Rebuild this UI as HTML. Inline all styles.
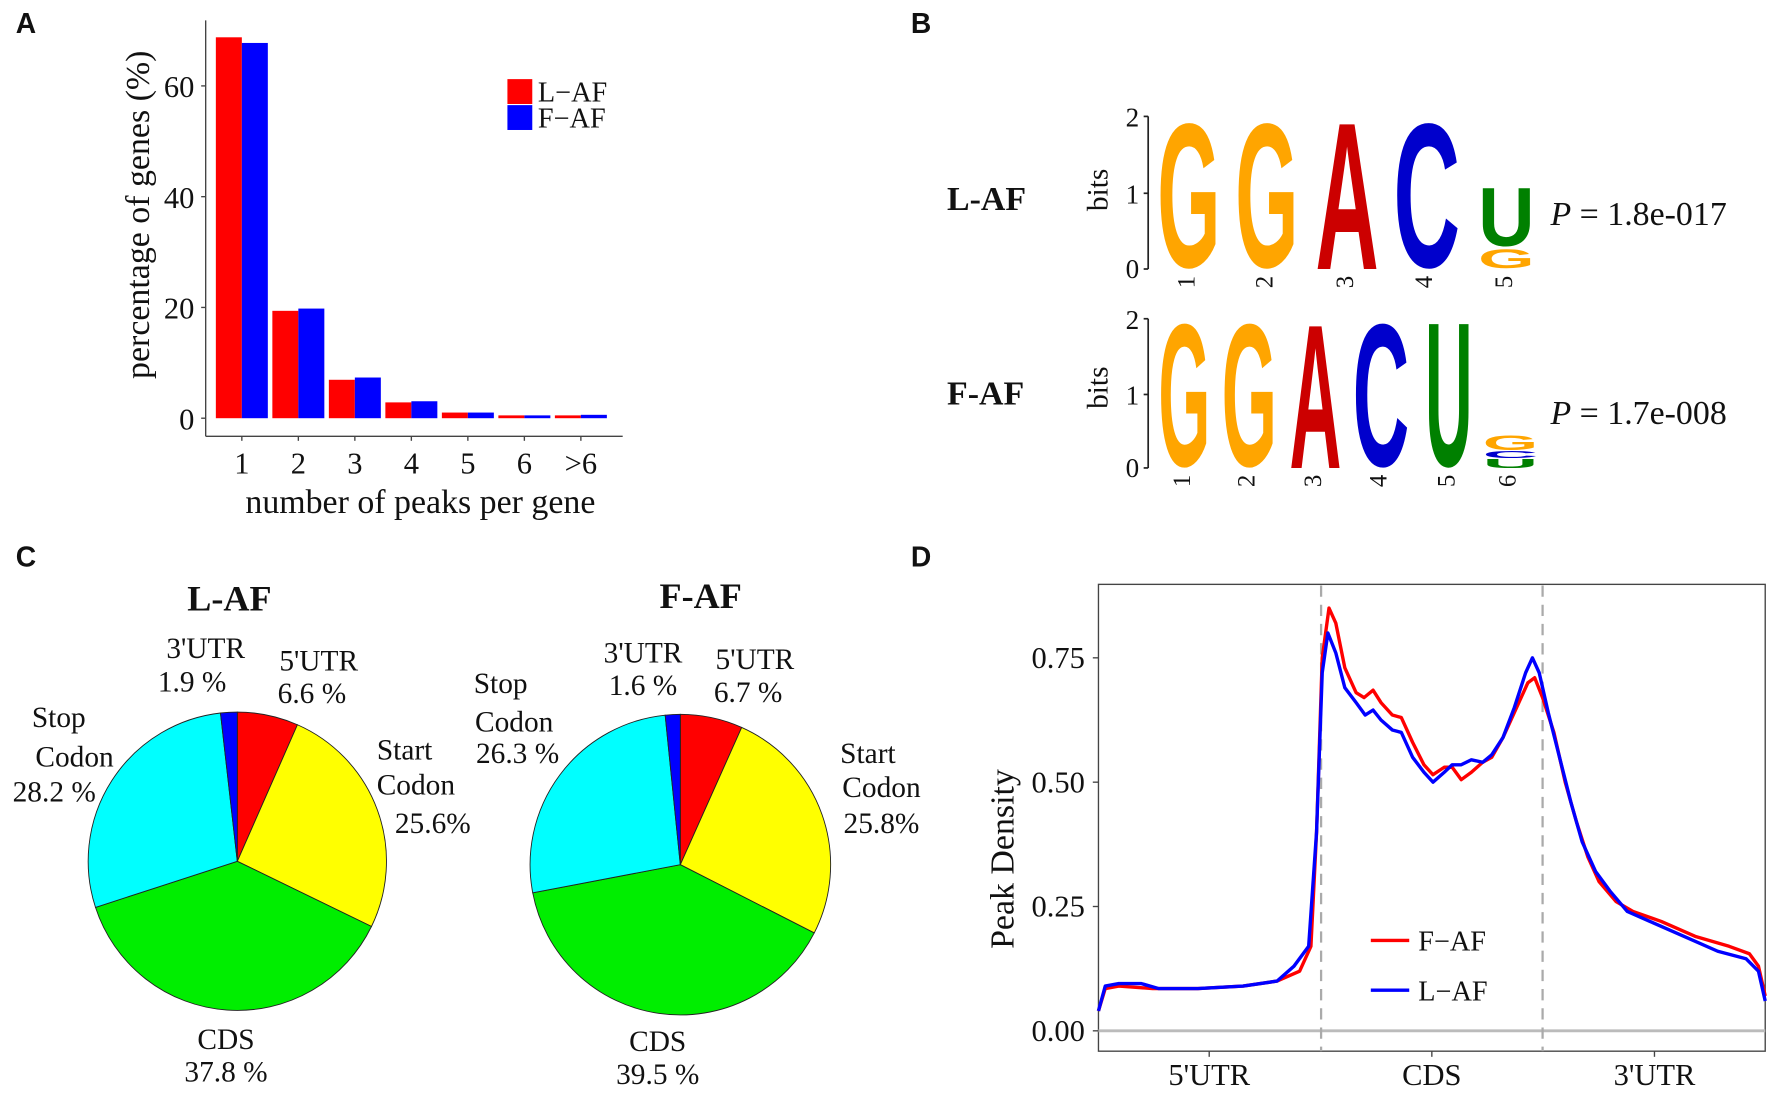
<!DOCTYPE html>
<html><head><meta charset="utf-8"><style>
html,body{margin:0;padding:0;background:#fff;}
svg{display:block;}
.s{font-family:"Liberation Serif",serif;fill:#111;}
.b{font-family:"Liberation Sans",sans-serif;font-weight:bold;fill:#111;}
</style></head><body>
<svg width="1772" height="1093" viewBox="0 0 1568 967" preserveAspectRatio="none" xmlns="http://www.w3.org/2000/svg">
<rect width="1568" height="967" fill="#fff"/>
<!-- Panel A -->
<text class="b" x="14" y="29" font-size="25">A</text>
<g fill="#ff0000">
<rect x="191" y="33" width="23" height="337"/><rect x="241" y="275" width="23" height="95"/>
<rect x="291" y="336" width="23" height="34"/><rect x="341" y="356" width="23" height="14"/>
<rect x="391" y="365" width="23" height="5"/><rect x="441" y="367.5" width="23" height="2.5"/>
<rect x="491" y="367.5" width="23" height="2.5"/></g>
<g fill="#0000ff">
<rect x="214" y="38" width="23" height="332"/><rect x="264" y="273" width="23" height="97"/>
<rect x="314" y="334" width="23" height="36"/><rect x="364" y="355" width="23" height="15"/>
<rect x="414" y="365" width="23" height="5"/><rect x="464" y="367.5" width="23" height="2.5"/>
<rect x="514" y="367" width="23" height="3"/></g>
<g stroke="#444" stroke-width="1.2">
<line x1="182" y1="18" x2="182" y2="386"/><line x1="182" y1="386" x2="551" y2="386"/>
<line x1="178" y1="370" x2="182" y2="370"/><line x1="178" y1="272" x2="182" y2="272"/>
<line x1="178" y1="174" x2="182" y2="174"/><line x1="178" y1="76" x2="182" y2="76"/>
<line x1="214" y1="386" x2="214" y2="390"/><line x1="264" y1="386" x2="264" y2="390"/>
<line x1="314" y1="386" x2="314" y2="390"/><line x1="364" y1="386" x2="364" y2="390"/>
<line x1="414" y1="386" x2="414" y2="390"/><line x1="464" y1="386" x2="464" y2="390"/>
<line x1="514" y1="386" x2="514" y2="390"/></g>
<g class="s" font-size="27" text-anchor="end">
<text x="172" y="380">0</text><text x="172" y="282">20</text><text x="172" y="184">40</text><text x="172" y="86">60</text></g>
<g class="s" font-size="27" text-anchor="middle">
<text x="214" y="419">1</text><text x="264" y="419">2</text><text x="314" y="419">3</text><text x="364" y="419">4</text>
<text x="414" y="419">5</text><text x="464" y="419">6</text><text x="514" y="419">&gt;6</text></g>
<text class="s" font-size="30" text-anchor="middle" x="372" y="454">number of peaks per gene</text>
<text class="s" font-size="30" text-anchor="middle" transform="translate(132,190) rotate(-90)">percentage of genes (%)</text>
<rect x="449" y="70" width="22" height="22" fill="#ff0000"/><rect x="449" y="93" width="22" height="22" fill="#0000ff"/>
<text class="s" font-size="25" x="476" y="90">L−AF</text><text class="s" font-size="25" x="476" y="113">F−AF</text>

<!-- Panel B -->
<text class="b" x="806" y="29" font-size="25">B</text>
<g class="s" font-weight="bold" font-size="30"><text x="838" y="186">L-AF</text><text x="838" y="358">F-AF</text></g>
<g class="s" font-size="26" text-anchor="middle">
<text transform="translate(980,168) rotate(-90)">bits</text><text transform="translate(980,343) rotate(-90)">bits</text></g>
<g stroke="#222" stroke-width="1.5">
<line x1="1016" y1="103" x2="1016" y2="238"/><line x1="1012" y1="103" x2="1016" y2="103"/><line x1="1012" y1="171" x2="1016" y2="171"/><line x1="1012" y1="238" x2="1016" y2="238"/>
<line x1="1016" y1="282" x2="1016" y2="414"/><line x1="1012" y1="282" x2="1016" y2="282"/><line x1="1012" y1="349" x2="1016" y2="349"/><line x1="1012" y1="414" x2="1016" y2="414"/></g>
<g class="s" font-size="24" text-anchor="end">
<text x="1008" y="112">2</text><text x="1008" y="180">1</text><text x="1008" y="246">0</text>
<text x="1008" y="291">2</text><text x="1008" y="358">1</text><text x="1008" y="422">0</text></g>
<g font-family="Liberation Sans,sans-serif" font-weight="bold" font-size="100">
<!-- row 1 -->
<text x="0" y="0" textLength="56" lengthAdjust="spacingAndGlyphs" fill="#ffa500" transform="translate(1024,236) scale(1,1.82)">G</text>
<text x="0" y="0" textLength="56" lengthAdjust="spacingAndGlyphs" fill="#ffa500" transform="translate(1093,236) scale(1,1.82)">G</text>
<text x="0" y="0" textLength="56" lengthAdjust="spacingAndGlyphs" fill="#cc0000" transform="translate(1164,238) scale(1,1.86)">A</text>
<text x="0" y="0" textLength="59" lengthAdjust="spacingAndGlyphs" fill="#0000cc" transform="translate(1233,236) scale(1,1.82)">C</text>
<text x="0" y="0" textLength="50" lengthAdjust="spacingAndGlyphs" fill="#008000" transform="translate(1308,217) scale(1,0.74)">U</text>
<text x="0" y="0" textLength="50" lengthAdjust="spacingAndGlyphs" fill="#ffa500" transform="translate(1308,237) scale(1,0.24)">G</text>
<!-- row 2 -->
<text x="0" y="0" textLength="46" lengthAdjust="spacingAndGlyphs" fill="#ffa500" transform="translate(1025,412) scale(1,1.80)">G</text>
<text x="0" y="0" textLength="49" lengthAdjust="spacingAndGlyphs" fill="#ffa500" transform="translate(1081,412) scale(1,1.80)">G</text>
<text x="0" y="0" textLength="46" lengthAdjust="spacingAndGlyphs" fill="#cc0000" transform="translate(1141,414) scale(1,1.82)">A</text>
<text x="0" y="0" textLength="50" lengthAdjust="spacingAndGlyphs" fill="#0000cc" transform="translate(1197,412) scale(1,1.80)">C</text>
<text x="0" y="0" textLength="42" lengthAdjust="spacingAndGlyphs" fill="#008000" transform="translate(1261,412) scale(1,1.82)">U</text>
<text x="0" y="0" textLength="49" lengthAdjust="spacingAndGlyphs" fill="#ffa500" transform="translate(1312,398) scale(1,0.19)">G</text>
<text x="0" y="0" textLength="49" lengthAdjust="spacingAndGlyphs" fill="#0000cc" transform="translate(1312,405) scale(1,0.09)">C</text>
<text x="0" y="0" textLength="49" lengthAdjust="spacingAndGlyphs" fill="#008000" transform="translate(1312,414) scale(1,0.11)">U</text>
</g>
<g class="s" font-size="22">
<text transform="translate(1052,244) rotate(-90)" dominant-baseline="middle" text-anchor="end">1</text>
<text transform="translate(1121,244) rotate(-90)" dominant-baseline="middle" text-anchor="end">2</text>
<text transform="translate(1192,244) rotate(-90)" dominant-baseline="middle" text-anchor="end">3</text>
<text transform="translate(1262,244) rotate(-90)" dominant-baseline="middle" text-anchor="end">4</text>
<text transform="translate(1333,244) rotate(-90)" dominant-baseline="middle" text-anchor="end">5</text>
<text transform="translate(1048,420) rotate(-90)" dominant-baseline="middle" text-anchor="end">1</text>
<text transform="translate(1105,420) rotate(-90)" dominant-baseline="middle" text-anchor="end">2</text>
<text transform="translate(1164,420) rotate(-90)" dominant-baseline="middle" text-anchor="end">3</text>
<text transform="translate(1222,420) rotate(-90)" dominant-baseline="middle" text-anchor="end">4</text>
<text transform="translate(1282,420) rotate(-90)" dominant-baseline="middle" text-anchor="end">5</text>
<text transform="translate(1336,420) rotate(-90)" dominant-baseline="middle" text-anchor="end">6</text>
</g>
<g class="s" font-size="30">
<text x="1372" y="199"><tspan font-style="italic">P</tspan> = 1.8e-017</text>
<text x="1372" y="375"><tspan font-style="italic">P</tspan> = 1.7e-008</text></g>

<!-- Panel C -->
<text class="b" x="14" y="501" font-size="25">C</text>
<g class="s" font-weight="bold" font-size="32" text-anchor="middle"><text x="203" y="540">L-AF</text><text x="620" y="538">F-AF</text></g>
<g stroke="#222" stroke-width="0.8">
<path d="M210,762 L210,630 A132,132 0 0 1 263.2,641.2Z" fill="#ff0000"/>
<path d="M210,762 L263.2,641.2 A132,132 0 0 1 328.7,819.7Z" fill="#ffff00"/>
<path d="M210,762 L328.7,819.7 A132,132 0 0 1 84.5,802.8Z" fill="#00ee00"/>
<path d="M210,762 L84.5,802.8 A132,132 0 0 1 195.1,630.8Z" fill="#00ffff"/>
<path d="M210,762 L195.1,630.8 A132,132 0 0 1 210,630Z" fill="#0000ff"/>
<path d="M602,765 L602,632 A133,133 0 0 1 656.3,643.6Z" fill="#ff0000"/>
<path d="M602,765 L656.3,643.6 A133,133 0 0 1 720.5,825.4Z" fill="#ffff00"/>
<path d="M602,765 L720.5,825.4 A133,133 0 0 1 471.4,789.9Z" fill="#00ee00"/>
<path d="M602,765 L471.4,789.9 A133,133 0 0 1 588.6,632.7Z" fill="#00ffff"/>
<path d="M602,765 L588.6,632.7 A133,133 0 0 1 602,632Z" fill="#0000ff"/>
</g>
<g class="s" font-size="26" text-anchor="middle">
<text x="182" y="582">3'UTR</text><text x="170" y="612">1.9 %</text>
<text x="282" y="593">5'UTR</text><text x="276" y="622">6.6 %</text>
<text x="52" y="643">Stop</text><text x="66" y="678">Codon</text><text x="48" y="709">28.2 %</text>
<text x="358" y="672">Start</text><text x="368" y="703">Codon</text><text x="383" y="737">25.6%</text>
<text x="200" y="928">CDS</text><text x="200" y="957">37.8 %</text>
<text x="569" y="586">3'UTR</text><text x="569" y="615">1.6 %</text>
<text x="668" y="592">5'UTR</text><text x="662" y="621">6.7 %</text>
<text x="443" y="613">Stop</text><text x="455" y="647">Codon</text><text x="458" y="675">26.3 %</text>
<text x="768" y="675">Start</text><text x="780" y="705">Codon</text><text x="780" y="737">25.8%</text>
<text x="582" y="930">CDS</text><text x="582" y="959">39.5 %</text>
</g>

<!-- Panel D -->
<text class="b" x="806" y="501" font-size="25">D</text>
<rect x="972" y="517" width="590" height="413" fill="none" stroke="#444" stroke-width="1.2"/>
<line x1="972" y1="912" x2="1562" y2="912" stroke="#bbb" stroke-width="2.5"/>
<line x1="1169" y1="518" x2="1169" y2="930" stroke="#aaa" stroke-width="2" stroke-dasharray="10,7"/>
<line x1="1365" y1="518" x2="1365" y2="930" stroke="#aaa" stroke-width="2" stroke-dasharray="10,7"/>
<g stroke="#444" stroke-width="1.2">
<line x1="967" y1="912" x2="972" y2="912"/><line x1="967" y1="802" x2="972" y2="802"/><line x1="967" y1="692" x2="972" y2="692"/><line x1="967" y1="582" x2="972" y2="582"/>
<line x1="1070" y1="930" x2="1070" y2="935"/><line x1="1267" y1="930" x2="1267" y2="935"/><line x1="1464" y1="930" x2="1464" y2="935"/></g>
<g class="s" font-size="27" text-anchor="end">
<text x="960" y="921">0.00</text><text x="960" y="811">0.25</text><text x="960" y="701">0.50</text><text x="960" y="591">0.75</text></g>
<g class="s" font-size="27" text-anchor="middle">
<text x="1070" y="960">5'UTR</text><text x="1267" y="960">CDS</text><text x="1464" y="960">3'UTR</text></g>
<text class="s" font-size="30" text-anchor="middle" transform="translate(897,760) rotate(-90)">Peak Density</text>
<polyline fill="none" stroke="#ff0000" stroke-width="3" stroke-linejoin="round" points="972,894.4 978,874.6 990,872.4 1020,874.6 1060,874.6 1100,872.4 1130,868 1150,859.2 1160,837.2 1165,736 1170,582 1176,538 1182,551.2 1190,590.8 1200,612.8 1207,617.2 1215,610.6 1222,621.6 1232,632.6 1240,634.8 1250,656.8 1260,676.6 1268,685.4 1278,678.8 1285,678.8 1293,689.8 1302,683.2 1312,674.4 1320,670 1330,652.4 1340,630.4 1352,604 1358,599.6 1365,617.2 1375,648 1385,692 1395,727.2 1405,758 1415,780 1430,797.6 1445,806.4 1470,815.2 1500,828.4 1530,837.2 1548,843.8 1556,854.8 1562,881.2"/>
<polyline fill="none" stroke="#0000ff" stroke-width="3" stroke-linejoin="round" points="972,894.4 978,872.4 990,870.2 1010,870.2 1025,874.6 1060,874.6 1100,872.4 1130,868 1145,854.8 1158,837.2 1165,736 1170,595.2 1175,560 1182,577.6 1190,608.4 1200,621.6 1208,632.6 1215,628.2 1222,637 1232,645.8 1240,648 1250,670 1260,683.2 1268,692 1278,683.2 1285,676.6 1293,676.6 1302,672.2 1312,674.4 1320,667.8 1330,652.4 1340,626 1350,595.2 1356,582 1362,595.2 1370,630.4 1380,670 1390,709.6 1400,744.8 1412,771.2 1425,788.8 1440,806.4 1460,815.2 1490,828.4 1520,841.6 1545,848.2 1556,859.2 1562,885.6"/>
<line x1="1213" y1="832" x2="1247" y2="832" stroke="#ff0000" stroke-width="3"/>
<line x1="1213" y1="876" x2="1247" y2="876" stroke="#0000ff" stroke-width="3"/>
<text class="s" font-size="25" x="1255" y="841">F−AF</text>
<text class="s" font-size="25" x="1255" y="885">L−AF</text>
</svg>
</body></html>
